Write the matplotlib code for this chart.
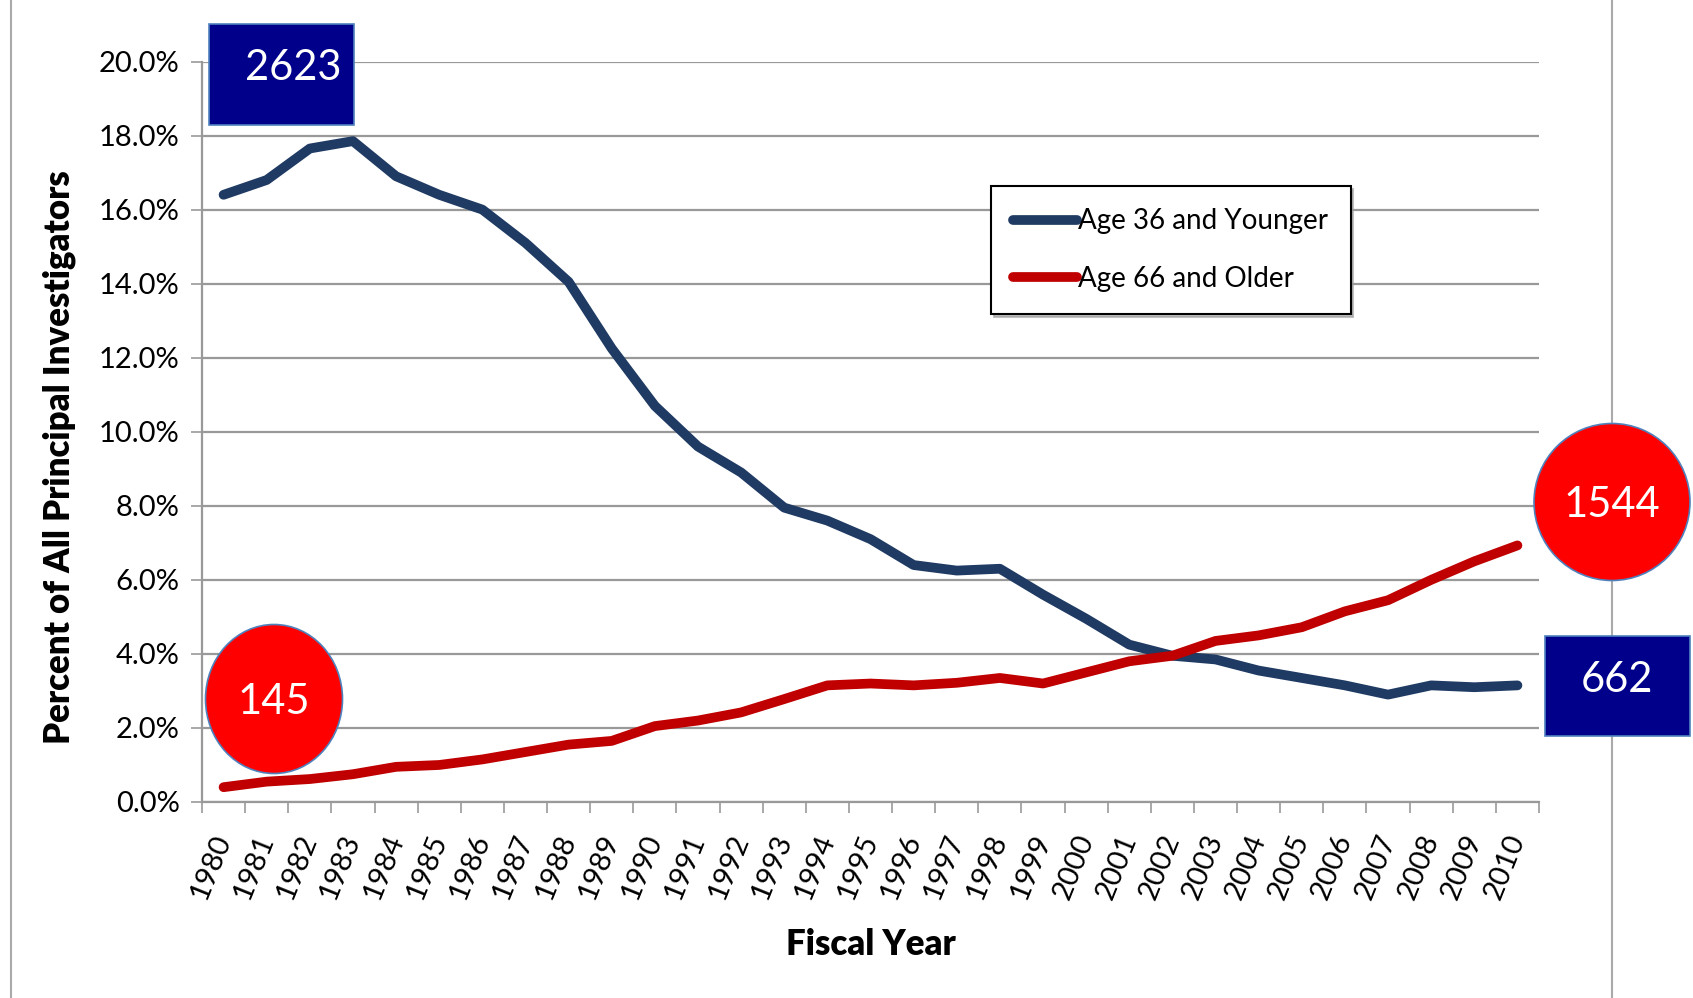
import matplotlib
matplotlib.use("Agg")
import matplotlib.pyplot as plt
from matplotlib.patches import Rectangle, Ellipse
import numpy as np

years = [str(y) for y in range(1980, 2011)]
young = [16.4, 16.8, 17.65, 17.85, 16.9, 16.4, 16.0, 15.1, 14.05, 12.25,
         10.7, 9.6, 8.9, 7.95, 7.6, 7.1, 6.4, 6.25, 6.3, 5.6,
         4.95, 4.25, 3.95, 3.85, 3.55, 3.35, 3.15, 2.9, 3.15, 3.1, 3.15]
old = [0.4, 0.55, 0.62, 0.75, 0.95, 1.0, 1.15, 1.35, 1.55, 1.65,
       2.05, 2.2, 2.42, 2.78, 3.15, 3.2, 3.15, 3.22, 3.35, 3.2,
       3.5, 3.8, 3.95, 4.35, 4.5, 4.72, 5.15, 5.45, 6.0, 6.5, 6.93]
series_names = ["Age 36 and Younger", "Age 66 and Older"]
callouts = ["2623", "662", "145", "1544"]

plt.rcParams['font.family'] = ['Lato', 'DejaVu Sans']

W, H = 1693, 998
fig = plt.figure(figsize=(W / 100, H / 100), dpi=100)
ax = fig.add_axes([202 / W, 1 - 802 / H, (1539 - 202) / W, (802 - 61.5) / H])

grid_c = "#999999"
x = np.arange(len(years))
ax.plot(x, young, color="#1f3a63", lw=7, solid_capstyle="round",
        solid_joinstyle="round", label=series_names[0], zorder=3)
ax.plot(x, old, color="#c00000", lw=7, solid_capstyle="round",
        solid_joinstyle="round", label=series_names[1], zorder=3)

ax.set_xlim(-0.5, len(years) - 0.5)
ax.set_ylim(0, 20)
ax.set_yticks(np.arange(0, 20.1, 2))
ax.set_yticklabels([f"{v:.1f}%" for v in np.arange(0, 20.1, 2)], fontsize=21)
ax.yaxis.grid(True, color=grid_c, lw=1.6, zorder=0)
ax.set_axisbelow(True)

ax.set_xticks(np.arange(-0.5, len(years), 1))
ax.set_xticklabels([])
ax.set_xticks(x, minor=True)
ax.set_xticklabels(years, minor=True, rotation=68, fontsize=21,
                   ha="right", va="center", rotation_mode="anchor")
ax.tick_params(axis="x", which="minor", length=0, pad=24)
ax.tick_params(axis="x", which="major", length=8, width=1.2, color=grid_c)
ax.tick_params(axis="y", length=8, width=1.2, color=grid_c, pad=8)

for s in ["top", "right"]:
    ax.spines[s].set_visible(False)
for s in ["left", "bottom"]:
    ax.spines[s].set_color(grid_c)
    ax.spines[s].set_linewidth(1.6)

ax.set_ylabel("Percent of All Principal Investigators", fontsize=25,
              fontweight="heavy")
ax.yaxis.set_label_coords(-0.094, 0.466)
ax.set_xlabel("Fiscal Year", fontsize=25, fontweight="heavy", labelpad=18)

leg = ax.legend(loc="upper left", bbox_to_anchor=((991 - 202) / (1539 - 202),
                (802 - 186) / (802 - 61.5)), fontsize=20, frameon=True,
                fancybox=False, edgecolor="black", handlelength=2.3,
                handletextpad=0.05, labelspacing=1.15, borderpad=0.8,
                borderaxespad=0,
                shadow={'color': '0.6', 'alpha': 0.6})
leg.get_frame().set_linewidth(1.5)

# overlay in pixel coordinates for the callout shapes
ov = fig.add_axes([0, 0, 1, 1], zorder=5)
ov.set_xlim(0, W)
ov.set_ylim(H, 0)
ov.axis("off")

# outer frame lines
ov.plot([11, 11], [0, H], color="#aaaaaa", lw=1.5, zorder=1)
ov.plot([1612, 1612], [0, H], color="#aaaaaa", lw=1.5, zorder=1)

edge = "#4f81bd"
ov.add_patch(Rectangle((209, 24), 145, 101, facecolor="#00008b", edgecolor=edge, lw=1.2, zorder=3))
ov.text(293, 68, callouts[0], color="white", fontsize=30, ha="center", va="center", zorder=4)
ov.add_patch(Rectangle((1545, 636), 145, 100, facecolor="#00008b", edgecolor=edge, lw=1.2, zorder=3))
ov.text(1617, 680, callouts[1], color="white", fontsize=30, ha="center", va="center", zorder=4)
ov.add_patch(Ellipse((274, 699), 137, 149, facecolor="#ff0000", edgecolor=edge, lw=1.2, zorder=3))
ov.text(274, 702, callouts[2], color="white", fontsize=30, ha="center", va="center", zorder=4)
ov.add_patch(Ellipse((1612, 502), 156, 157, facecolor="#ff0000", edgecolor=edge, lw=1.2, zorder=3))
ov.text(1612, 505, callouts[3], color="white", fontsize=30, ha="center", va="center", zorder=4)

fig.savefig("out.png", dpi=100)
